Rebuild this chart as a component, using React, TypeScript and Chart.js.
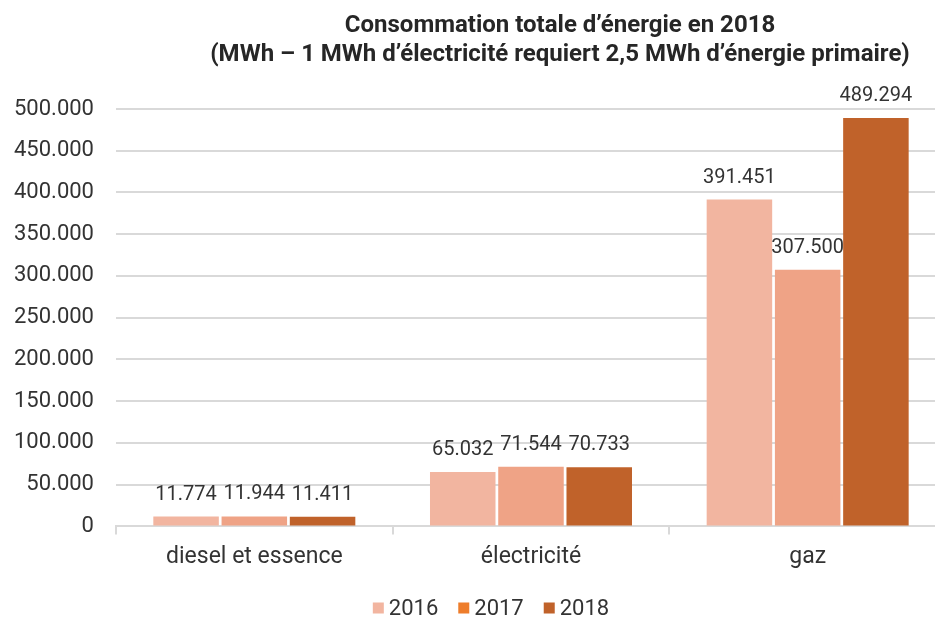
import React, { useEffect, useRef } from "react";
import { Chart, registerables } from "chart.js";

Chart.register(...registerables);

const categories = ["diesel et essence", "électricité", "gaz"];
const years = ["2016", "2017", "2018"];
const values2016 = [11774, 65032, 391451];
const values2017 = [11944, 71544, 307500];
const values2018 = [11411, 70733, 489294];
const barColors = ["#F2B5A0", "#EFA386", "#C0622A"];
const legendColors = ["#F2B5A0", "#EE7D2B", "#C0622A"];
const titleLines = [
  "Consommation totale d’énergie en 2018",
  "(MWh – 1 MWh d’électricité requiert 2,5 MWh d’énergie primaire)",
];

const FONT = "Roboto, 'DejaVu Sans', sans-serif";
const fmt = (v: number) => Math.round(v).toLocaleString("de-DE");

const overlayPlugin = {
  id: "overlay",
  afterDatasetsDraw(chart: any) {
    const ctx = chart.ctx;
    ctx.save();
    ctx.font = `20px ${FONT}`;
    ctx.fillStyle = "#333333";
    ctx.textAlign = "center";
    ctx.textBaseline = "bottom";
    chart.data.datasets.forEach((ds: any, di: number) => {
      const meta = chart.getDatasetMeta(di);
      meta.data.forEach((el: any, i: number) => {
        ctx.fillText(fmt(ds.data[i]), el.x, el.y - 12);
      });
    });
    ctx.restore();
  },
  afterDraw(chart: any) {
    const ctx = chart.ctx;
    ctx.save();
    ctx.font = `bold 24px ${FONT}`;
    ctx.fillStyle = "#262626";
    ctx.textAlign = "center";
    ctx.textBaseline = "middle";
    ctx.fillText(titleLines[0], 560, 26);
    ctx.fillText(titleLines[1], 560, 55);
    ctx.font = `22px ${FONT}`;
    ctx.textAlign = "left";
    const box = 11;
    const gapBoxText = 5;
    const gapItems = 20;
    const widths = years.map((y) => box + gapBoxText + ctx.measureText(y).width);
    const total = widths.reduce((a, b) => a + b, 0) + gapItems * (years.length - 1);
    let x = 491 - total / 2;
    const yc = 608;
    years.forEach((y, i) => {
      ctx.fillStyle = legendColors[i];
      ctx.fillRect(x, yc - box / 2, box, box);
      ctx.fillStyle = "#333333";
      ctx.fillText(y, x + box + gapBoxText, yc + 1);
      x += widths[i] + gapItems;
    });
    ctx.restore();
  },
};

export default function App() {
  const ref = useRef<HTMLCanvasElement | null>(null);
  useEffect(() => {
    if (!ref.current) return;
    const chart = new Chart(ref.current, {
      type: "bar",
      data: {
        labels: categories,
        datasets: [values2016, values2017, values2018].map((d, i) => ({
          label: years[i],
          data: d,
          backgroundColor: barColors[i],
          barPercentage: 0.96,
          categoryPercentage: 0.74,
        })),
      },
      options: {
        responsive: false,
        animation: false,
        layout: { padding: { top: 109, bottom: 39, left: -8, right: 4 } },
        plugins: {
          legend: { display: false },
          title: { display: false },
          tooltip: { enabled: false },
        },
        scales: {
          x: {
            grid: {
              display: true,
              drawOnChartArea: false,
              drawTicks: true,
              tickLength: 8,
              color: "#D9D9D9",
              lineWidth: 2,
            },
            border: { display: true, color: "#D9D9D9", width: 2 },
            ticks: {
              font: { family: FONT, size: 23 },
              color: "#333333",
              padding: 9,
            },
          },
          y: {
            min: 0,
            max: 500000,
            grid: { color: "#D9D9D9", lineWidth: 2, drawTicks: false },
            border: { display: false },
            ticks: {
              stepSize: 50000,
              font: { family: FONT, size: 22 },
              color: "#333333",
              padding: 22,
              callback: (v: any) => fmt(Number(v)),
            },
          },
        },
      },
      plugins: [overlayPlugin],
    });
    return () => chart.destroy();
  }, []);
  return (
    <div
      style={{
        position: "fixed",
        left: 0,
        top: 0,
        width: 935,
        height: 619,
        overflow: "hidden",
        background: "#fff",
      }}
    >
      <canvas ref={ref} width={950} height={619} style={{ display: "block" }} />
    </div>
  );
}
